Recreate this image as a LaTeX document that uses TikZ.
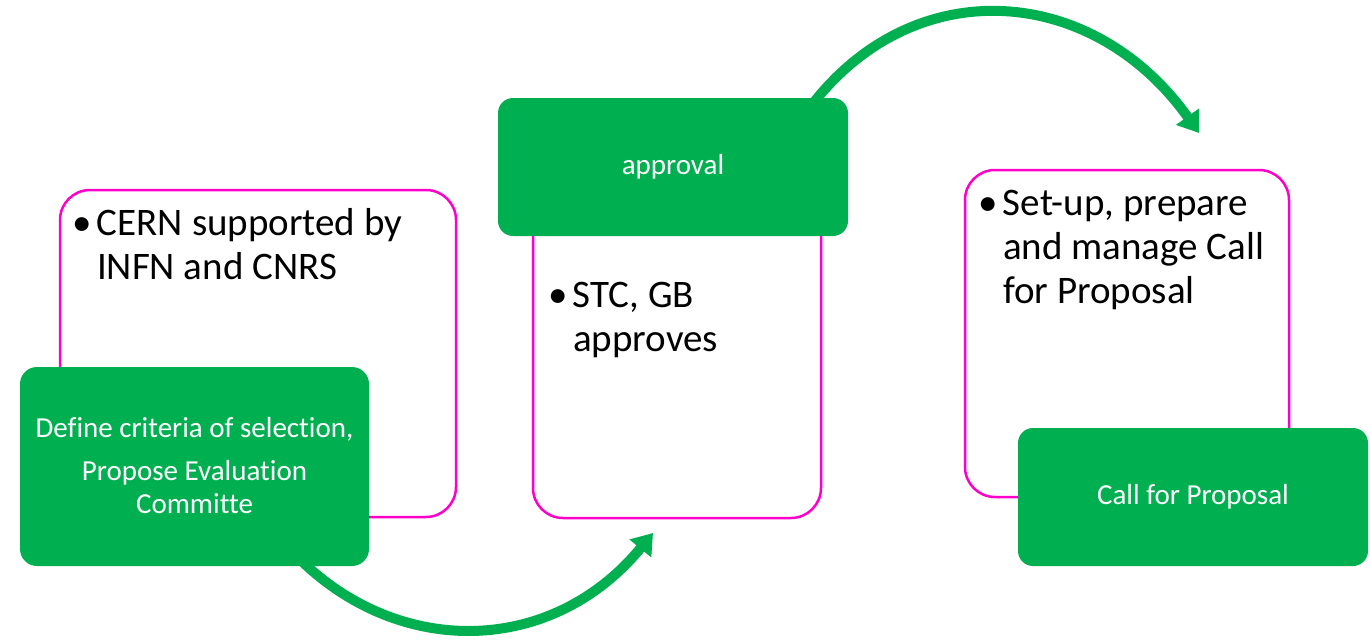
\documentclass[tikz,border=0pt]{standalone}
\usepackage{fontspec}
\setmainfont{Carlito}[Ligatures=NoCommon]
\usetikzlibrary{arrows.meta,backgrounds,calc}
\definecolor{gbox}{RGB}{0,176,80}
\definecolor{pinkline}{HTML}{FF00CC}
\tikzset{
  pinkbox/.style={draw=pinkline, line width=2.5pt, rounded corners=30pt, fill=white, inner sep=0pt, outer sep=0pt},
  greenbox/.style={fill=gbox, rounded corners=17pt, inner sep=0pt, outer sep=0pt, text=white, font=\fontsize{29}{33}\selectfont, align=center},
  bullettext/.style={anchor=base west, inner sep=0pt, outer sep=0pt, font=\fontsize{39}{44}\selectfont},
  flowarrow/.style={draw=gbox, line width=10pt, -{Triangle[length=20pt,width=27pt]}}
}
\newcommand{\bulletcol}{\makebox[25pt][l]{\textbullet}}
\begin{document}
\begin{tikzpicture}[x=1pt,y=-1pt]
\useasboundingbox (0,0) rectangle (1371,642);
% pink boxes
\node[pinkbox, minimum width=396pt, minimum height=327pt] (p1) at (258,353.5) {};
\node[pinkbox, minimum width=288pt, minimum height=318pt] (p2) at (677,359) {};
\node[pinkbox, minimum width=324pt, minimum height=327pt] (p3) at (1127,333.5) {};
% bullet texts
\node[bullettext] (t1) at (72,235) {\begin{tabular}[t]{@{}l@{}l@{}}\bulletcol & CERN supported by\\ & INFN and CNRS\end{tabular}};
\node[bullettext] (t2) at (548,307) {\begin{tabular}[t]{@{}l@{}l@{}}\bulletcol & STC, GB\\ & approves\end{tabular}};
\node[bullettext] (t3) at (978,215) {\begin{tabular}[t]{@{}l@{}l@{}}\bulletcol & Set-up, prepare\\ & and manage Call\\ & for Proposal\end{tabular}};
% green boxes
\node[greenbox, minimum width=349pt, minimum height=199pt] (g1) at (194.5,466.5) {};
\node[anchor=base, inner sep=0pt, text=white, font=\fontsize{29}{33}\selectfont] (g1t) at (194.5,437) {\begin{tabular}[t]{@{}c@{}}Define criteria of selection,\\[10pt] Propose Evaluation\\ Committe\end{tabular}};
\node[greenbox, rounded corners=15pt, minimum width=350pt, minimum height=138pt] (g2) at (673,167) {approval};
\node[greenbox, rounded corners=15pt, minimum width=350pt, minimum height=138pt] (g3) at (1193,497) {Call for Proposal};
% arrows
\coordinate (a1s) at ($(g1.south)+(104,-8)$);
\coordinate (a1e) at (653,533);
\coordinate (a2s) at ($(g2.north)+(138,8)$);
\coordinate (a2e) at (1199,133);
\begin{scope}[on background layer]
\draw[flowarrow] (a1s) .. controls (399,658) and (552,656) .. (a1e);
\draw[flowarrow] (a2s) .. controls (915,-30) and (1094,-15) .. (a2e);
\end{scope}
\end{tikzpicture}
\end{document}
